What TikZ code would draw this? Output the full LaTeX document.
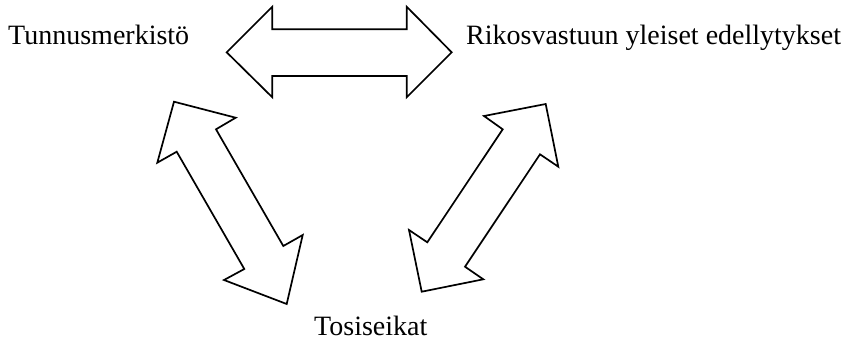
\documentclass[tikz,border=0pt]{standalone}
\usepackage{fontspec}
\setmainfont{Liberation Serif}
\begin{document}
\begin{tikzpicture}[x=1pt,y=-1pt,
  label text/.style={anchor=base west,inner sep=0pt,font=\fontsize{28}{30}\selectfont},
  double arrow/.style={draw=black,fill=white,line width=1.7pt,line join=miter}]
\useasboundingbox (0,0) rectangle (850,341);

% labels
\node[label text] (tunnus) at (8,44) {Tunnusmerkistö};
\node[label text] (rikos) at (466,44) {Rikosvastuun yleiset edellytykset};
\node[label text] (tosi) at (314,335) {Tosiseikat};

% top double arrow
\draw[double arrow] (226.7,52.3) -- (272.3,6.7) -- (272.3,29.3) -- (406.7,29.3)
  -- (406.7,6.7) -- (451.7,52.3) -- (406.7,97.3) -- (406.7,76)
  -- (272.3,76) -- (272.3,97.3) -- cycle;

% left double arrow
\draw[double arrow] (174,101.7) -- (235.7,117.7) -- (216,129.3) -- (283.3,246)
  -- (302.7,235) -- (286.7,304) -- (224,280) -- (244.3,269)
  -- (176.7,151.7) -- (157.3,162.7) -- cycle;

% right double arrow
\draw[double arrow] (545.7,104) -- (558.3,166.7) -- (540,154.3) -- (465,266.7)
  -- (483.3,279.3) -- (421.7,291.7) -- (409,230) -- (427.3,242.3)
  -- (502.7,129.3) -- (484,116) -- cycle;
\end{tikzpicture}
\end{document}
